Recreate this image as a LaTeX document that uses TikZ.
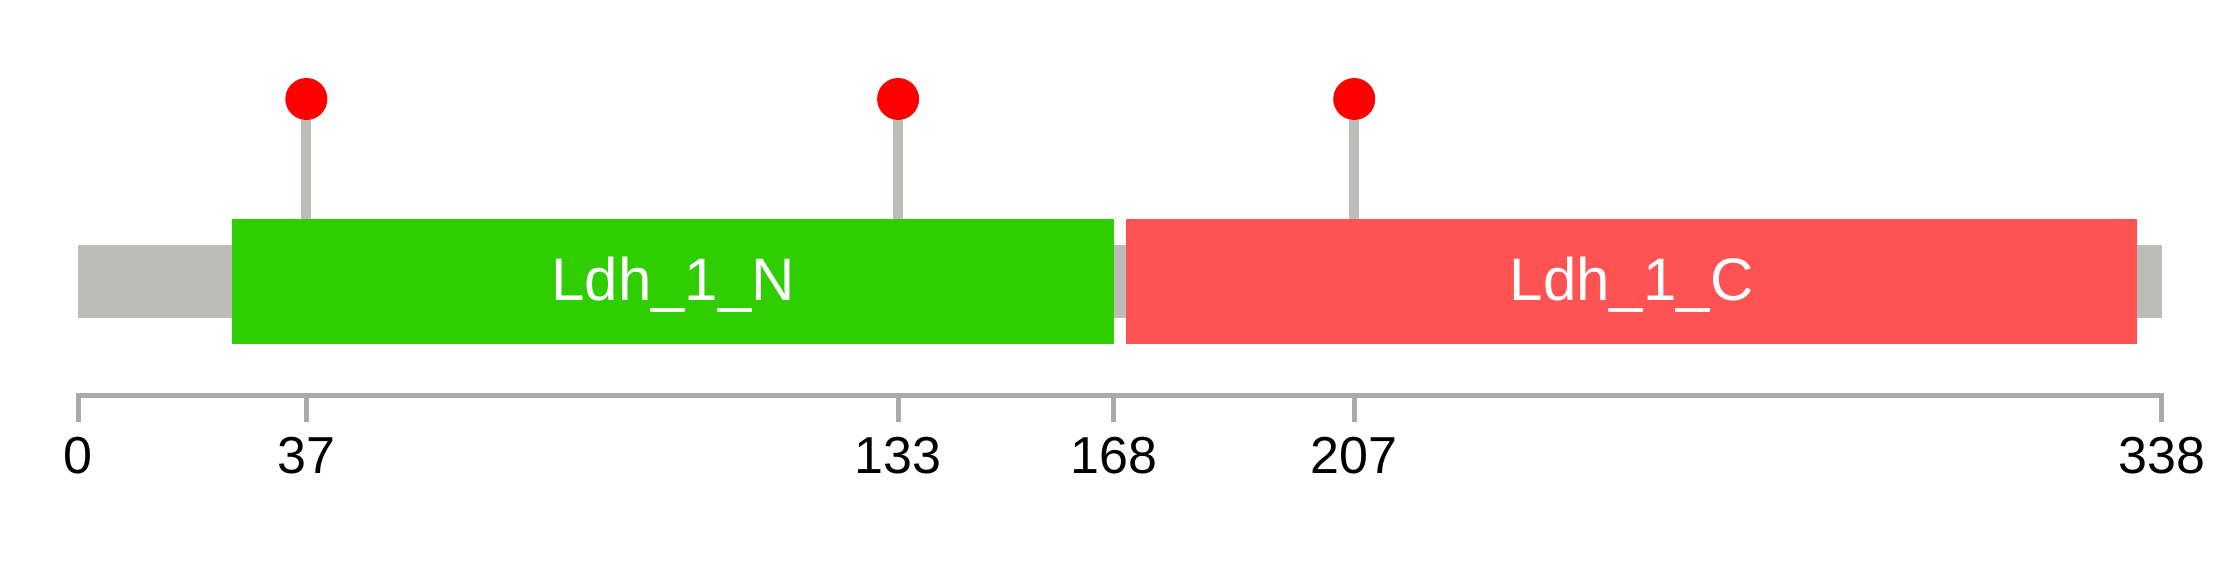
\documentclass[tikz,border=0pt]{standalone}
\usepackage{fontspec}
\setmainfont{Liberation Sans}
\definecolor{backbone}{HTML}{BBBDB6}
\definecolor{axisgray}{HTML}{AAAAAA}
\definecolor{ldhgreen}{HTML}{2ECE00}
\definecolor{ldhred}{HTML}{FF5353}
\definecolor{sitered}{HTML}{FF0000}
\begin{document}
\begin{tikzpicture}[x=6.164pt, y=1pt, shift={(78.3pt,0)},
	domainlabel/.style={text=white, anchor=base, inner sep=0pt, font=\fontsize{60}{64}\selectfont},
	ticklabel/.style={anchor=base, inner sep=0pt, font=\fontsize{52}{56}\selectfont},
	site/.style={circle, fill=sitered, inner sep=0pt, minimum size=42pt}]
	\useasboundingbox (-12.703,0) rectangle (350.541,-578);
	% backbone
	\fill[backbone] (0,-245) rectangle (338,-318.3);
	% domains
	\fill[ldhgreen] (25,-219) rectangle (168,-344.3);
	\node[domainlabel] (ldhN) at (96.5,-301) {Ldh\_1\_N};
	\fill[ldhred] (170,-219) rectangle (334,-344.3);
	\node[domainlabel] (ldhC) at (252,-301) {Ldh\_1\_C};
	% sites
	\foreach \pos/\name in {37/sA, 133/sB, 207/sC} {
		\coordinate (\name base) at (\pos,-219);
		\node[site] (\name) at (\pos,-99) {};
		\draw[backbone, line width=10pt] (\name base) -- (\name.south);
	}
	% axis
	\draw[axisgray, line width=5pt] (0,-422) -- (0,-396) -- (338,-396) -- (338,-422);
	\foreach \pos in {0,37,133,168,207,338} {
		\draw[axisgray, line width=5pt] (\pos,-396) -- (\pos,-422);
		\node[ticklabel] (t\pos) at (\pos,-474) {\pos};
	}
\end{tikzpicture}
\end{document}
